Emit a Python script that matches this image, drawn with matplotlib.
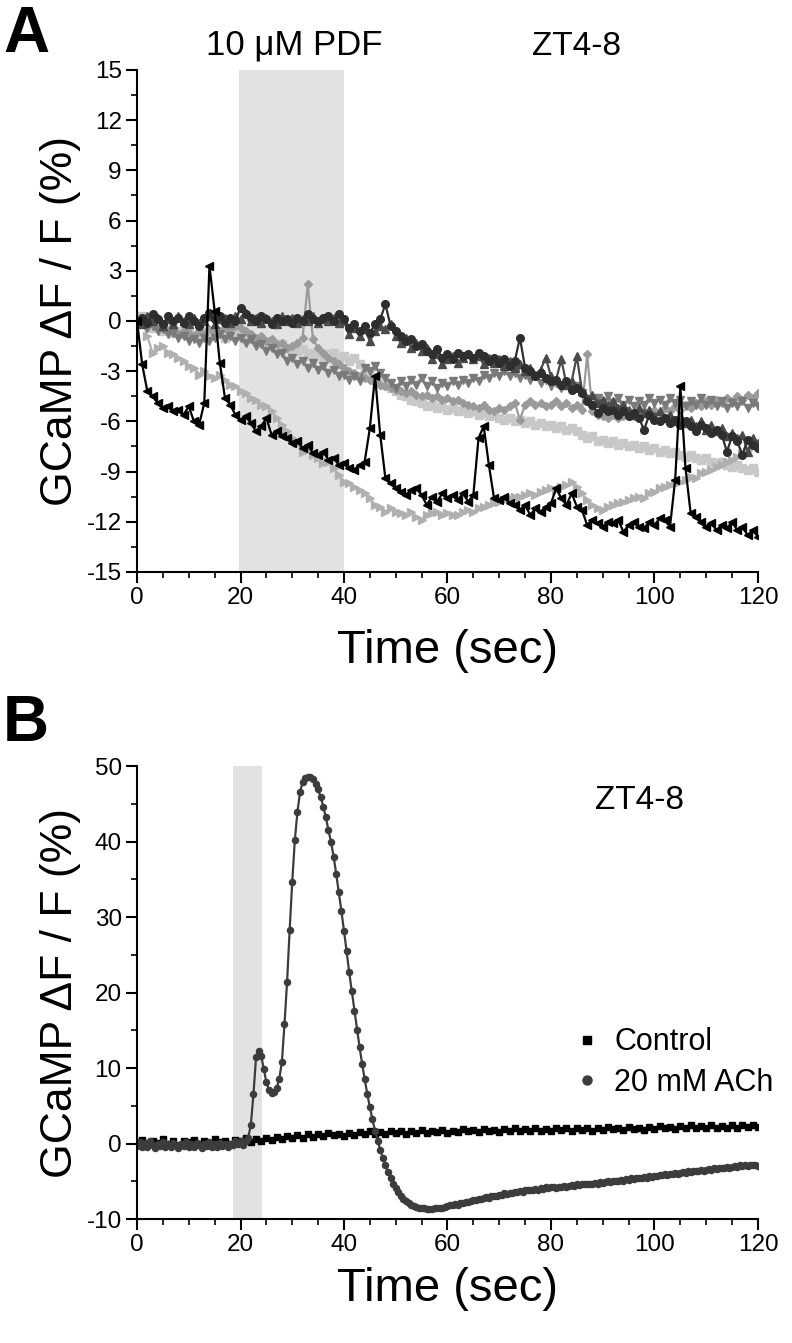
import numpy as np
import matplotlib
matplotlib.use("Agg")
import matplotlib.pyplot as plt
from matplotlib.lines import Line2D
from matplotlib.ticker import MultipleLocator

plt.rcParams['font.family'] = ['Liberation Sans', 'DejaVu Sans']
plt.rcParams['axes.unicode_minus'] = False

# ---- panel A: 10 uM PDF, seven cells, 1 s sampling ----
tA = np.arange(0, 121)

cell_black = [
    0.0, -2.6, -4.2, -4.5, -4.9, -5.2, -5.1, -5.4, -5.3, -5.6,
    -5.1, -6.0, -6.2, -4.9, 3.3, 0.6, -2.5, -4.6, -5.0, -5.6,
    -5.9, -5.7, -6.1, -6.6, -6.3, -5.8, -6.8, -6.6, -6.9, -7.0,
    -7.3, -7.2, -7.6, -7.4, -7.9, -8.0, -7.8, -8.3, -8.2, -8.6,
    -8.5, -8.8, -8.9, -8.6, -8.4, -6.4, -3.3, -6.8, -9.4, -9.7,
    -10.0, -10.2, -10.4, -10.1, -10.0, -10.4, -11.0, -10.5, -10.8, -10.3,
    -10.6, -10.4, -10.7, -10.3, -10.8, -10.4, -7.0, -6.3, -8.6, -10.6,
    -10.7, -10.5, -10.9, -11.0, -11.3, -11.0, -11.6, -11.2, -11.4, -11.1,
    -10.9, -10.0, -10.6, -11.0, -10.3, -11.1, -11.3, -12.2, -11.9, -12.1,
    -12.3, -12.0, -12.1, -11.9, -12.6, -12.2, -12.0, -12.3, -12.4, -12.0,
    -12.2, -11.8, -11.9, -12.3, -9.5, -3.9, -8.8, -11.5, -11.7, -12.0,
    -12.3, -12.1, -12.5, -12.2, -12.4, -12.0, -12.5, -12.3, -12.8, -12.5,
    -12.9]

cell_rtri = [
    0.0, 0.1, -0.9, -1.9, -1.6, -1.5, -1.9, -2.0, -2.2, -2.4,
    -2.7, -2.8, -3.2, -3.0, -3.3, -3.4, -3.2, -3.5, -3.8, -3.9,
    -4.2, -4.3, -4.6, -4.7, -5.0, -5.1, -5.4, -5.8, -6.2, -6.6,
    -7.0, -7.3, -7.8, -7.7, -8.0, -8.2, -8.5, -8.4, -8.8, -9.2,
    -9.6, -9.7, -9.9, -10.1, -10.3, -10.6, -11.0, -11.1, -11.4, -11.2,
    -11.4, -11.5, -11.6, -11.4, -11.7, -11.9, -11.6, -11.5, -11.4, -11.6,
    -11.5, -11.6, -11.6, -11.4, -11.3, -11.4, -11.2, -11.1, -11.0, -10.9,
    -10.8, -10.7, -10.6, -10.5, -10.5, -10.4, -10.3, -10.4, -10.2, -10.1,
    -10.0, -10.1, -9.9, -9.8, -9.6, -9.9, -10.3, -10.7, -11.0, -11.2,
    -11.3, -11.1, -11.0, -10.9, -10.8, -10.7, -10.6, -10.5, -10.6, -10.3,
    -10.2, -10.0, -9.9, -9.8, -9.7, -9.6, -9.5, -9.3, -9.4, -9.1,
    -9.0, -8.9, -8.7, -8.6, -8.4, -8.3, -8.1, -7.9, -7.7, -7.5,
    -7.3]

cell_circ = [
    0.0, 0.2, -0.1, 0.4, 0.1, -0.2, 0.3, 0.0, 0.2, -0.1,
    0.3, 0.0, -0.3, 0.2, 0.5, 0.1, 0.3, -0.1, 0.2, 0.0,
    0.8, 0.4, 0.2, 0.0, 0.3, 0.1, -0.2, 0.2, 0.0, 0.1,
    -0.1, 0.2, 0.0, 0.4, 0.1, 0.0, 0.2, 0.3, 0.0, 0.4,
    0.1, -0.4, -0.2, -0.6, -0.3, -0.7, -0.2, 0.1, 1.0, -0.3,
    -0.6, -0.9, -1.2, -1.1, -1.5, -1.4, -1.8, -2.0, -1.7, -2.2,
    -2.0, -2.3, -1.9, -2.1, -2.0, -2.2, -1.9, -2.1, -2.4, -2.2,
    -2.5, -2.3, -2.7, -2.4, -1.0, -2.8, -3.0, -3.3, -3.1, -3.4,
    -3.6, -3.5, -3.8, -3.6, -4.1, -4.0, -4.3, -4.8, -5.0, -5.5,
    -5.2, -5.4, -5.3, -5.6, -5.4, -5.7, -5.5, -5.8, -6.5, -5.6,
    -5.9, -6.0, -5.8, -6.1, -5.9, -6.2, -6.0, -6.3, -6.6, -6.2,
    -6.4, -6.7, -6.5, -6.8, -7.8, -6.9, -7.2, -8.0, -7.1, -7.4,
    -7.6]

cell_utri = [
    0.0, -0.2, 0.3, 0.0, 0.2, -0.3, 0.1, -0.2, 0.3, 0.0,
    -0.2, 0.2, -0.1, 0.0, 0.3, -0.2, 0.1, 0.2, -0.1, 0.3,
    0.1, 0.5, 0.0, 0.2, -0.1, 0.2, 0.0, -0.2, 0.3, 0.0,
    0.2, -0.1, 0.1, 0.0, 0.3, -0.1, 0.1, 0.0, 0.2, -0.1,
    0.0, -0.8, -0.4, -0.9, -0.5, -1.2, -0.6, -0.3, -0.5, -0.2,
    -0.9, -1.3, -1.0, -1.6, -1.3, -1.8, -1.6, -2.3, -2.0, -2.6,
    -2.3, -2.1, -2.5, -2.2, -2.0, -2.3, -2.1, -2.6, -2.2, -2.5,
    -2.3, -2.7, -2.4, -2.8, -2.6, -3.0, -2.8, -3.2, -2.9, -2.2,
    -3.3, -3.5, -2.3, -3.8, -3.6, -2.1, -4.2, -4.6, -4.4, -4.9,
    -4.7, -5.0, -4.8, -5.2, -5.0, -5.3, -5.6, -5.2, -5.5, -5.3,
    -5.7, -5.4, -5.8, -5.6, -6.0, -5.7, -6.1, -5.9, -6.3, -6.0,
    -6.5, -6.2, -6.6, -6.4, -6.9, -6.7, -7.0, -6.8, -7.8, -7.0,
    -7.3]

cell_dtri = [
    0.0, -0.2, -0.4, -0.3, -0.6, -0.5, -0.8, -0.7, -1.0, -0.9,
    -1.2, -1.1, -1.3, -1.0, -1.2, -1.0, -0.8, -1.1, -0.9, -1.2,
    -1.0, -1.3, -1.1, -1.5, -1.4, -1.8, -1.6, -2.0, -1.9, -2.4,
    -2.2, -2.6, -2.4, -2.8, -2.5, -2.9, -2.7, -3.1, -2.9, -3.3,
    -3.2, -3.5, -3.3, -3.6, -2.8, -3.0, -2.7, -3.1, -3.4, -3.7,
    -4.0, -3.6, -3.9, -3.5, -3.8, -3.4, -3.9, -3.6, -4.0, -3.7,
    -3.9, -3.6, -3.8, -3.5, -3.7, -3.4, -3.6, -3.2, -3.4, -3.1,
    -3.3, -3.0, -3.3, -3.1, -3.4, -3.2, -3.5, -3.3, -3.7, -3.5,
    -3.9, -3.7, -4.0, -3.8, -4.1, -3.9, -4.3, -4.7, -5.0, -4.6,
    -4.9, -4.5, -4.9, -4.6, -5.0, -4.7, -5.1, -4.8, -5.0, -4.6,
    -4.9, -4.7, -5.0, -4.6, -4.9, -4.7, -5.1, -4.8, -5.0, -4.6,
    -5.0, -4.7, -5.1, -4.8, -5.2, -4.9, -5.1, -4.8, -5.2, -4.9,
    -5.1]

cell_diam = [
    0.0, 0.0, -0.3, -0.2, -0.5, -0.4, -0.6, -0.5, -0.8, -0.6,
    -0.7, -0.9, -0.6, -0.8, -0.5, -0.7, -0.6, -0.4, -0.5, -0.3,
    -0.4, -0.6, -0.8, -1.0, -0.9, -1.2, -1.1, -1.4, -1.3, -1.6,
    -1.5, -1.3, -1.0, 2.2, -1.1, -1.6, -1.9, -2.2, -2.4, -2.6,
    -2.8, -3.0, -3.1, -3.3, -3.4, -3.5, -3.7, -3.8, -3.9, -4.0,
    -4.1, -4.2, -4.3, -4.2, -4.4, -4.5, -4.4, -4.6, -4.5, -4.7,
    -4.6, -4.8, -4.7, -4.9, -5.0, -5.1, -5.2, -5.0, -5.3, -5.4,
    -5.2, -5.3, -5.1, -4.9, -5.9, -5.0, -4.8, -5.0, -4.9, -5.1,
    -5.0, -4.8, -5.1, -4.9, -5.2, -5.0, -5.3, -2.0, -5.4, -5.6,
    -5.7, -5.8, -5.6, -5.8, -5.7, -5.5, -5.7, -5.6, -5.4, -5.6,
    -5.3, -5.5, -5.2, -5.4, -5.1, -5.3, -5.0, -5.2, -4.9, -5.1,
    -4.8, -5.0, -4.7, -4.9, -4.6, -4.8, -4.5, -4.7, -4.4, -4.6,
    -4.3]

cell_sq = [
    0.0, 0.3, -0.2, -0.4, -0.3, -0.6, -0.5, -0.7, -0.6, -0.8,
    -0.7, -0.9, -0.8, -0.6, -0.9, -0.7, -0.8, -1.0, -0.9, -0.7,
    -0.9, -1.1, -1.0, -1.2, -1.3, -1.2, -1.4, -1.5, -1.4, -1.6,
    -1.7, -1.8, -1.7, -1.9, -2.0, -1.9, -2.1, -2.0, -1.9, -2.2,
    -2.1, -2.4, -2.2, -2.6, -2.9, -3.2, -3.4, -3.6, -3.8, -4.0,
    -4.2, -4.4, -4.5, -4.7, -4.8, -4.9, -5.1, -5.0, -5.2, -5.1,
    -5.3, -5.2, -5.4, -5.3, -5.5, -5.4, -5.6, -5.5, -5.7, -5.6,
    -5.8, -5.9, -5.8, -6.0, -5.9, -6.1, -6.0, -6.2, -6.1, -6.3,
    -6.2, -6.4, -6.3, -6.5, -6.4, -6.6, -6.8, -7.0, -6.9, -7.2,
    -7.1, -7.3, -7.2, -7.4, -7.3, -7.5, -7.4, -7.6, -7.5, -7.7,
    -7.6, -7.8, -7.7, -7.9, -7.8, -8.0, -8.1, -8.0, -8.2, -8.3,
    -8.2, -8.4, -8.5, -8.4, -8.6, -8.7, -8.6, -8.8, -8.9, -8.8,
    -9.0]

# ---- panel B: control (1 s) and 20 mM ACh (0.5 s) ----
tB_ctrl = np.arange(0, 121)
ctrl = [
    0.2, 0.5, -0.1, 0.4, 0.1, 0.6, 0.0, 0.3, -0.2, 0.4,
    0.2, 0.5, -0.1, 0.3, 0.1, 0.6, 0.2, 0.4, 0.0, 0.5,
    0.3, 0.7, 0.2, 0.6, 0.4, 0.8, 0.5, 0.9, 0.6, 1.0,
    0.7, 1.1, 0.8, 1.2, 0.9, 1.3, 1.0, 1.4, 1.1, 1.2,
    1.0, 1.4, 1.1, 1.5, 1.2, 1.6, 1.3, 1.5, 1.2, 1.6,
    1.4, 1.7, 1.3, 1.6, 1.4, 1.8, 1.4, 1.7, 1.5, 1.8,
    1.4, 1.7, 1.5, 1.9, 1.6, 1.8, 1.5, 1.9, 1.6, 1.8,
    1.5, 1.9, 1.6, 2.0, 1.7, 1.9, 1.6, 2.0, 1.7, 1.9,
    1.6, 2.0, 1.8, 2.1, 1.7, 2.0, 1.8, 2.1, 1.7, 2.0,
    1.8, 2.2, 1.9, 2.1, 1.8, 2.2, 1.9, 2.1, 1.8, 2.2,
    1.9, 2.3, 2.0, 2.2, 1.9, 2.3, 2.0, 2.4, 2.1, 2.3,
    2.0, 2.4, 2.1, 2.3, 2.0, 2.4, 2.1, 2.5, 2.2, 2.4,
    2.2]

tB_ach = np.arange(0, 120.5, 0.5)
ach = [
    -0.3, 0.2, -0.4, 0.1, -0.5, 0.3, -0.2, -0.6, 0.0, -0.3,
    0.2, -0.4, -0.1, -0.5, 0.1, -0.2, -0.6, 0.0, -0.3, 0.2,
    -0.4, -0.1, -0.5, 0.1, -0.2, -0.6, 0.0, -0.3, 0.2, -0.4,
    -0.1, -0.5, 0.1, -0.3, -0.1, -0.5, 0.0, -0.2, 0.3, -0.1,
    0.4, -0.2, 0.3, 0.8, 2.5, 6.5, 11.4, 12.3, 11.6, 9.9,
    8.1, 7.1, 6.7, 6.8, 7.4, 8.6, 10.8, 15.8, 21.4, 28.3,
    34.7, 40.2, 43.9, 46.5, 47.9, 48.4, 48.6, 48.6, 48.3, 47.6,
    46.9, 45.9, 44.6, 43.2, 41.5, 39.9, 38.0, 35.7, 33.3, 30.8,
    28.2, 25.5, 22.7, 20.2, 17.6, 15.1, 12.8, 10.6, 8.5, 6.6,
    4.8, 3.2, 1.7, 0.4, -0.8, -1.9, -2.9, -3.8, -4.6, -5.3,
    -5.9, -6.4, -6.9, -7.3, -7.6, -7.9, -8.1, -8.3, -8.4, -8.5,
    -8.6, -8.6, -8.7, -8.7, -8.7, -8.6, -8.6, -8.5, -8.5, -8.4,
    -8.3, -8.2, -8.2, -8.0, -8.1, -7.9, -7.9, -7.7, -7.8, -7.6,
    -7.5, -7.5, -7.3, -7.4, -7.2, -7.1, -7.2, -7.0, -6.9, -7.0,
    -6.8, -6.8, -6.6, -6.7, -6.5, -6.6, -6.4, -6.4, -6.3, -6.4,
    -6.2, -6.2, -6.1, -6.2, -6.0, -6.1, -5.9, -6.0, -5.8, -5.9,
    -5.8, -5.8, -5.9, -5.7, -5.8, -5.6, -5.7, -5.6, -5.5, -5.6,
    -5.4, -5.5, -5.3, -5.4, -5.4, -5.3, -5.4, -5.2, -5.3, -5.1,
    -5.2, -5.1, -5.0, -5.1, -4.9, -5.0, -4.9, -4.8, -4.9, -4.7,
    -4.8, -4.6, -4.7, -4.6, -4.5, -4.6, -4.4, -4.5, -4.3, -4.4,
    -4.3, -4.3, -4.2, -4.2, -4.1, -4.2, -4.0, -4.1, -3.9, -4.0,
    -3.9, -3.8, -3.9, -3.7, -3.8, -3.7, -3.6, -3.7, -3.5, -3.6,
    -3.5, -3.4, -3.5, -3.3, -3.4, -3.3, -3.2, -3.3, -3.1, -3.2,
    -3.1, -3.0, -3.1, -2.9, -3.0, -2.9, -3.0, -2.8, -2.9, -2.9,
    -3.0]

pdf_window = (19.7, 40.0)
ach_window = (18.6, 24.1)

fig = plt.figure(figsize=(7.92, 13.43), dpi=100)
axA = fig.add_axes([0.173, 0.5741, 0.784, 0.3738])
axB = fig.add_axes([0.173, 0.0923, 0.784, 0.3373])


def style_axis(ax, xpad):
    for side in ['top', 'right']:
        ax.spines[side].set_visible(False)
    for side in ['left', 'bottom']:
        ax.spines[side].set_linewidth(1.5)
    ax.tick_params(which='major', direction='out', length=8, width=1.5, labelsize=17.5, pad=3)
    ax.tick_params(which='minor', direction='out', length=4, width=1.2)
    ax.xaxis.set_major_locator(MultipleLocator(20))
    ax.xaxis.set_minor_locator(MultipleLocator(5))
    ax.set_xlim(0, 120)
    ax.set_xlabel('Time (sec)', fontsize=34, labelpad=xpad)
    ax.set_ylabel('GCaMP \u0394F / F (%)', fontsize=32, labelpad=4)


# panel A
axA.axvspan(*pdf_window, color='#e2e2e2', lw=0, zorder=0)
traces = [
    (cell_sq, 's', '#c8c8c8'),
    (cell_rtri, '>', '#b0b0b0'),
    (cell_diam, 'D', '#9a9a9a'),
    (cell_dtri, 'v', '#7a7a7a'),
    (cell_utri, '^', '#4a4a4a'),
    (cell_circ, 'o', '#2e2e2e'),
    (cell_black, '<', '#000000'),
]
for vals, mk, col in traces:
    ms = 4.5 if mk == 'D' else 5.5
    axA.plot(tA, vals, color=col, marker=mk, ms=ms, lw=1.6, mec=col, mfc=col)
style_axis(axA, 14)
axA.set_ylim(-15, 15)
axA.yaxis.set_major_locator(MultipleLocator(3))
axA.yaxis.set_minor_locator(MultipleLocator(1.5))
axA.text(0.254, 1.03, '10 \u03bcM PDF', transform=axA.transAxes, ha='center', va='baseline', fontsize=25)
axA.text(0.708, 1.03, 'ZT4-8', transform=axA.transAxes, ha='center', va='baseline', fontsize=24)

# panel B
axB.axvspan(*ach_window, color='#e2e2e2', lw=0, zorder=0)
axB.plot(tB_ctrl, ctrl, color='#000000', marker='s', ms=4.3, lw=1.2)
axB.plot(tB_ach, ach, color='#3c3c3c', marker='o', ms=4.4, lw=1.6)
style_axis(axB, 8)
axB.set_ylim(-10, 50)
axB.yaxis.set_major_locator(MultipleLocator(10))
axB.yaxis.set_minor_locator(MultipleLocator(5))
axB.text(0.81, 0.925, 'ZT4-8', transform=axB.transAxes, ha='center', va='center', fontsize=24)
handles = [Line2D([], [], ls='none', marker='s', ms=6, color='#000000'),
           Line2D([], [], ls='none', marker='o', ms=6.5, color='#3c3c3c')]
axB.legend(handles, ['Control', '20 mM ACh'], loc='center left', bbox_to_anchor=(0.66, 0.345),
           frameon=False, fontsize=22, handlelength=0.8, handletextpad=0.5, labelspacing=0.35)

fig.text(0.004, 0.996, 'A', fontsize=46, fontweight='bold', ha='left', va='top')
fig.text(0.004, 0.483, 'B', fontsize=46, fontweight='bold', ha='left', va='top')

fig.savefig('out.png', dpi=100)
